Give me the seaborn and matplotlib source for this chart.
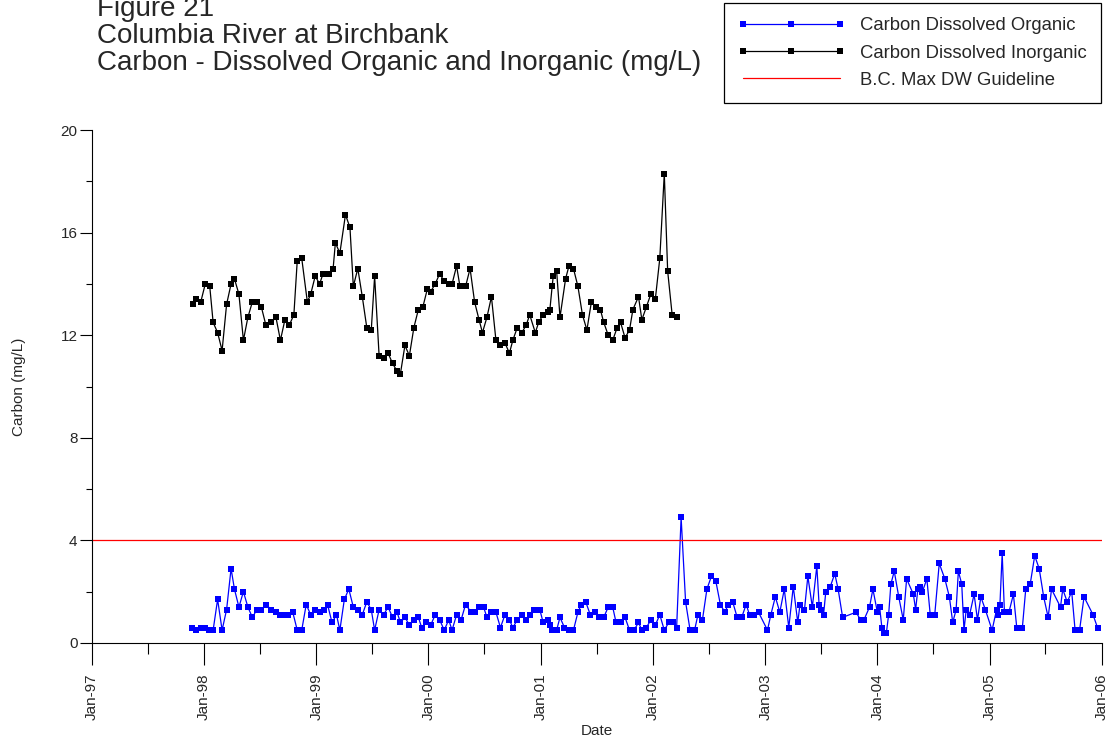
import matplotlib
matplotlib.use('Agg')

import numpy as np
import pandas as pd
from matplotlib import pyplot as plt
from matplotlib import dates as mdates
from matplotlib.ticker import MultipleLocator
import seaborn as sns


ORGANIC_YEARS = [
    1997.89, 1997.93, 1997.97, 1998.01, 1998.04, 1998.08, 1998.12, 1998.16, 1998.20, 1998.24,
    1998.27, 1998.31, 1998.35, 1998.39, 1998.43, 1998.47, 1998.51, 1998.55, 1998.60, 1998.64,
    1998.68, 1998.71, 1998.75, 1998.79, 1998.83, 1998.87, 1998.91, 1998.95, 1998.99, 1999.03,
    1999.07, 1999.10, 1999.14, 1999.18, 1999.21, 1999.25, 1999.29, 1999.33, 1999.37, 1999.41,
    1999.45, 1999.49, 1999.52, 1999.56, 1999.60, 1999.64, 1999.68, 1999.72, 1999.75, 1999.79,
    1999.83, 1999.87, 1999.91, 1999.94, 1999.98, 2000.02, 2000.06, 2000.10, 2000.14, 2000.18,
    2000.21, 2000.25, 2000.29, 2000.33, 2000.38, 2000.41, 2000.45, 2000.49, 2000.52, 2000.56,
    2000.60, 2000.64, 2000.68, 2000.72, 2000.75, 2000.79, 2000.83, 2000.87, 2000.90, 2000.94,
    2000.99, 2001.02, 2001.06, 2001.08, 2001.10, 2001.14, 2001.17, 2001.21, 2001.25, 2001.29,
    2001.33, 2001.36, 2001.40, 2001.44, 2001.48, 2001.52, 2001.56, 2001.60, 2001.64, 2001.67,
    2001.71, 2001.75, 2001.79, 2001.83, 2001.87, 2001.90, 2001.94, 2001.98, 2002.02, 2002.06,
    2002.10, 2002.14, 2002.18, 2002.21, 2002.25, 2002.29, 2002.33, 2002.37, 2002.40, 2002.44,
    2002.48, 2002.52, 2002.56, 2002.60, 2002.64, 2002.67, 2002.71, 2002.75, 2002.79, 2002.83,
    2002.86, 2002.90, 2002.94, 2003.02, 2003.05, 2003.09, 2003.13, 2003.17, 2003.21, 2003.25,
    2003.29, 2003.31, 2003.35, 2003.38, 2003.42, 2003.46, 2003.48, 2003.50, 2003.52, 2003.54,
    2003.58, 2003.62, 2003.65, 2003.69, 2003.81, 2003.85, 2003.88, 2003.93, 2003.96, 2004.00,
    2004.02, 2004.04, 2004.06, 2004.08, 2004.10, 2004.12, 2004.15, 2004.19, 2004.23, 2004.26,
    2004.32, 2004.34, 2004.36, 2004.38, 2004.40, 2004.44, 2004.47, 2004.51, 2004.55, 2004.60,
    2004.64, 2004.67, 2004.70, 2004.72, 2004.75, 2004.77, 2004.79, 2004.82, 2004.86, 2004.89,
    2004.92, 2004.96, 2005.02, 2005.06, 2005.07, 2005.09, 2005.11, 2005.13, 2005.17, 2005.21,
    2005.24, 2005.29, 2005.32, 2005.36, 2005.40, 2005.44, 2005.48, 2005.52, 2005.55, 2005.63,
    2005.65, 2005.69, 2005.73, 2005.76, 2005.80, 2005.84, 2005.92, 2005.96,
]
ORGANIC_VALUES = [
    0.6, 0.5, 0.6, 0.6, 0.5, 0.5, 1.7, 0.5, 1.3, 2.9,
    2.1, 1.4, 2.0, 1.4, 1.0, 1.3, 1.3, 1.5, 1.3, 1.2,
    1.1, 1.1, 1.1, 1.2, 0.5, 0.5, 1.5, 1.1, 1.3, 1.2,
    1.3, 1.5, 0.8, 1.1, 0.5, 1.7, 2.1, 1.4, 1.3, 1.1,
    1.6, 1.3, 0.5, 1.3, 1.1, 1.4, 1.0, 1.2, 0.8, 1.0,
    0.7, 0.9, 1.0, 0.6, 0.8, 0.7, 1.1, 0.9, 0.5, 0.9,
    0.5, 1.1, 0.9, 1.5, 1.2, 1.2, 1.4, 1.4, 1.0, 1.2,
    1.2, 0.6, 1.1, 0.9, 0.6, 0.9, 1.1, 0.9, 1.1, 1.3,
    1.3, 0.8, 0.9, 0.7, 0.5, 0.5, 1.0, 0.6, 0.5, 0.5,
    1.2, 1.5, 1.6, 1.1, 1.2, 1.0, 1.0, 1.4, 1.4, 0.8,
    0.8, 1.0, 0.5, 0.5, 0.8, 0.5, 0.6, 0.9, 0.7, 1.1,
    0.5, 0.8, 0.8, 0.6, 4.9, 1.6, 0.5, 0.5, 1.1, 0.9,
    2.1, 2.6, 2.4, 1.5, 1.2, 1.5, 1.6, 1.0, 1.0, 1.5,
    1.1, 1.1, 1.2, 0.5, 1.1, 1.8, 1.2, 2.1, 0.6, 2.2,
    0.8, 1.5, 1.3, 2.6, 1.4, 3.0, 1.5, 1.3, 1.1, 2.0,
    2.2, 2.7, 2.1, 1.0, 1.2, 0.9, 0.9, 1.4, 2.1, 1.2,
    1.4, 0.6, 0.4, 0.4, 1.1, 2.3, 2.8, 1.8, 0.9, 2.5,
    1.9, 1.3, 2.1, 2.2, 2.0, 2.5, 1.1, 1.1, 3.1, 2.5,
    1.8, 0.8, 1.3, 2.8, 2.3, 0.5, 1.3, 1.1, 1.9, 0.9,
    1.8, 1.3, 0.5, 1.3, 1.1, 1.5, 3.5, 1.2, 1.2, 1.9,
    0.6, 0.6, 2.1, 2.3, 3.4, 2.9, 1.8, 1.0, 2.1, 1.4,
    2.1, 1.6, 2.0, 0.5, 0.5, 1.8, 1.1, 0.6,
]

INORGANIC_YEARS = [
    1997.90, 1997.93, 1997.97, 1998.01, 1998.05, 1998.08, 1998.12, 1998.16, 1998.20, 1998.24,
    1998.27, 1998.31, 1998.35, 1998.39, 1998.43, 1998.47, 1998.51, 1998.55, 1998.60, 1998.64,
    1998.68, 1998.72, 1998.76, 1998.80, 1998.83, 1998.87, 1998.92, 1998.95, 1998.99, 1999.03,
    1999.06, 1999.11, 1999.15, 1999.17, 1999.21, 1999.26, 1999.30, 1999.33, 1999.37, 1999.41,
    1999.45, 1999.49, 1999.52, 1999.56, 1999.60, 1999.64, 1999.68, 1999.72, 1999.75, 1999.79,
    1999.83, 1999.87, 1999.91, 1999.95, 1999.99, 2000.02, 2000.06, 2000.10, 2000.14, 2000.18,
    2000.21, 2000.25, 2000.28, 2000.33, 2000.37, 2000.41, 2000.45, 2000.48, 2000.52, 2000.56,
    2000.60, 2000.64, 2000.68, 2000.72, 2000.75, 2000.79, 2000.83, 2000.87, 2000.90, 2000.95,
    2000.98, 2001.02, 2001.06, 2001.08, 2001.10, 2001.11, 2001.14, 2001.17, 2001.22, 2001.25,
    2001.29, 2001.33, 2001.37, 2001.41, 2001.45, 2001.49, 2001.53, 2001.56, 2001.60, 2001.64,
    2001.68, 2001.71, 2001.75, 2001.79, 2001.82, 2001.87, 2001.90, 2001.94, 2001.98, 2002.02,
    2002.06, 2002.10, 2002.13, 2002.17, 2002.21,
]
INORGANIC_VALUES = [
    13.2, 13.4, 13.3, 14.0, 13.9, 12.5, 12.1, 11.4, 13.2, 14.0,
    14.2, 13.6, 11.8, 12.7, 13.3, 13.3, 13.1, 12.4, 12.5, 12.7,
    11.8, 12.6, 12.4, 12.8, 14.9, 15.0, 13.3, 13.6, 14.3, 14.0,
    14.4, 14.4, 14.6, 15.6, 15.2, 16.7, 16.2, 13.9, 14.6, 13.5,
    12.3, 12.2, 14.3, 11.2, 11.1, 11.3, 10.9, 10.6, 10.5, 11.6,
    11.2, 12.3, 13.0, 13.1, 13.8, 13.7, 14.0, 14.4, 14.1, 14.0,
    14.0, 14.7, 13.9, 13.9, 14.6, 13.3, 12.6, 12.1, 12.7, 13.5,
    11.8, 11.6, 11.7, 11.3, 11.8, 12.3, 12.1, 12.4, 12.8, 12.1,
    12.5, 12.8, 12.9, 13.0, 13.9, 14.3, 14.5, 12.7, 14.2, 14.7,
    14.6, 13.9, 12.8, 12.2, 13.3, 13.1, 13.0, 12.5, 12.0, 11.8,
    12.3, 12.5, 11.9, 12.2, 13.0, 13.5, 12.6, 13.1, 13.6, 13.4,
    15.0, 18.3, 14.5, 12.8, 12.7,
]

GUIDELINE = 4.0
SERIES_LABELS = ['Carbon Dissolved Organic', 'Carbon Dissolved Inorganic', 'B.C. Max DW Guideline']
TITLE_LINES = ['Figure 21', 'Columbia River at Birchbank',
               'Carbon - Dissolved Organic and Inorganic (mg/L)']


def to_dates(years):
    years = np.asarray(years)
    whole = years.astype(int)
    start = pd.to_datetime([f'{y}-01-01' for y in whole])
    length = np.where((whole % 4) == 0, 366, 365)
    return start + pd.to_timedelta((years - whole) * length, unit='D')


organic = pd.DataFrame({'date': to_dates(ORGANIC_YEARS), 'value': ORGANIC_VALUES})
inorganic = pd.DataFrame({'date': to_dates(INORGANIC_YEARS), 'value': INORGANIC_VALUES})

sns.set_style('ticks')
plt.rcParams['font.family'] = ['Liberation Sans', 'DejaVu Sans']

fig = plt.figure(figsize=(11.12, 7.42), dpi=100)
ax = fig.add_axes([92 / 1112, 1 - 643 / 742, 1010 / 1112, 513 / 742])

line_kw = dict(marker='s', markersize=4.7, markeredgewidth=0, linewidth=0.9,
               estimator=None, sort=False)
sns.lineplot(data=organic, x='date', y='value', color='#0000ff',
             label=SERIES_LABELS[0], ax=ax, **line_kw)
sns.lineplot(data=inorganic, x='date', y='value', color='black',
             label=SERIES_LABELS[1], ax=ax, **line_kw)
ax.axhline(GUIDELINE, color='red', linewidth=0.9, label=SERIES_LABELS[2])

ax.set_xlim(pd.Timestamp('1997-01-01'), pd.Timestamp('2006-01-01'))
ax.set_ylim(0, 20)
ax.yaxis.set_major_locator(MultipleLocator(4))
ax.yaxis.set_minor_locator(MultipleLocator(2))
ax.xaxis.set_major_locator(mdates.YearLocator())
ax.xaxis.set_minor_locator(mdates.MonthLocator(bymonth=7))
ax.xaxis.set_major_formatter(mdates.DateFormatter('%b-%y'))

ax.tick_params(axis='x', which='major', length=16, width=0.8, color='black',
               labelsize=11, labelrotation=90, pad=6)
ax.tick_params(axis='x', which='minor', length=8, width=0.8, color='black')
ax.tick_params(axis='y', which='major', length=8.5, width=0.8, color='black',
               labelsize=11, pad=2)
ax.tick_params(axis='y', which='minor', length=4.5, width=0.8, color='black')
for lab in ax.get_xticklabels():
    lab.set_verticalalignment('top')

sns.despine(ax=ax)
for side in ['left', 'bottom']:
    ax.spines[side].set_color('black')
    ax.spines[side].set_linewidth(0.8)

ax.set_xlabel('Date', fontsize=11, labelpad=3)
ax.set_ylabel('Carbon (mg/L)', fontsize=11, labelpad=25)

handles, labels = ax.get_legend_handles_labels()
ax.get_legend().remove()
leg = fig.legend(handles, labels, loc='upper right',
                 bbox_to_anchor=(1101 / 1112, 1 - 3 / 742), borderaxespad=0,
                 fontsize=13.3, numpoints=3, handlelength=5.8, handletextpad=0.8,
                 labelspacing=0.55, borderpad=0.78, frameon=True, fancybox=False,
                 edgecolor='black', framealpha=1)
leg.get_frame().set_linewidth(0.9)

for i, line in enumerate(TITLE_LINES):
    fig.text(97 / 1112, 1 - (16 + 27 * i) / 742, line, fontsize=20,
             ha='left', va='baseline')

fig.savefig('out.png', dpi=100)
